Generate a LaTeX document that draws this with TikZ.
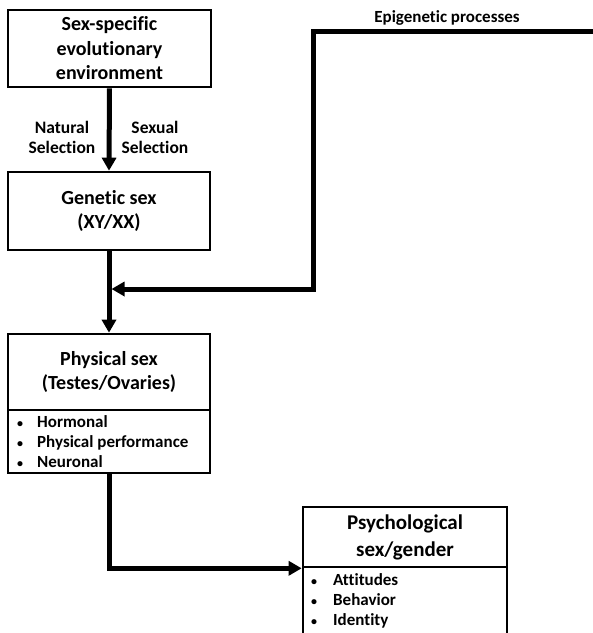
\documentclass[tikz,border=0pt]{standalone}
\usepackage{fontspec}
\setmainfont{Carlito}[Ligatures=CommonOff]
\usetikzlibrary{arrows.meta}
\newcommand{\smallbullet}{{\fontsize{12}{12}\selectfont\textbullet}}
\begin{document}
\begin{tikzpicture}[x=1pt,y=-1pt,
  font=\bfseries,
  boxpart/.style={draw, line width=2.6pt, rectangle, inner sep=0pt, align=center},
  titletext/.style={font=\fontsize{20}{24.5}\selectfont\bfseries},
  listtext/.style={font=\fontsize{17}{20}\selectfont\bfseries, align=left, anchor=west, inner sep=0pt},
  flow/.style={line width=5pt, -{Triangle[length=13pt,width=14pt]}},
  lbl/.style={font=\fontsize{17.5}{20}\selectfont\bfseries, align=center, inner sep=0pt}
]
\clip (0,0) rectangle (593,633);
\fill[white] (0,0) rectangle (593,633);

% boxes
\node[boxpart, titletext, minimum width=203pt, minimum height=77pt] (env) at (109.5,48.5)
  {Sex-specific\\evolutionary\\environment};
\node[boxpart, titletext, minimum width=202pt, minimum height=78pt] (gen) at (109,211)
  {Genetic sex\\(XY/XX)};
\node[boxpart, titletext, minimum width=202pt, minimum height=76pt] (physT) at (109,372)
  {Physical sex\\(Testes/Ovaries)};
\node[boxpart, minimum width=202pt, minimum height=63pt] (physL) at (109,441.5) {};
\node[boxpart, font=\fontsize{21}{27}\selectfont\bfseries, minimum width=204pt, minimum height=60pt] (psyT) at (405,537)
  {Psychological\\sex/gender};
\node[boxpart, minimum width=204pt, minimum height=80pt] (psyL) at (405,607) {};

% bullet lists
\node[listtext] (physItems) at (17,441.5)
  {\makebox[20pt][l]{\smallbullet}Hormonal\\
   \makebox[20pt][l]{\smallbullet}Physical performance\\
   \makebox[20pt][l]{\smallbullet}Neuronal};
\node[listtext, anchor=north west] (psyItems) at (311,573)
  {\makebox[22pt][l]{\smallbullet}Attitudes\\
   \makebox[22pt][l]{\smallbullet}Behavior\\
   \makebox[22pt][l]{\smallbullet}Identity};

% selection labels
\node[lbl] (natural) at (62,137) {Natural\\Selection};
\node[lbl] (sexual) at (155,137) {Sexual\\Selection};
\node[lbl, font=\fontsize{17}{20}\selectfont\bfseries] (epi) at (447,18) {Epigenetic processes};

% connectors
\coordinate (epiStart) at (593,31);
\coordinate (epiCorner) at (313,31);
\coordinate (join) at (109,289);

\draw[flow] (env.south) -- (gen.north);
\draw[flow] (gen.south) -- (physT.north);
\draw[flow, line join=miter, shorten >=2.5pt] (epiStart) -- (epiCorner) |- (join);
\draw[flow, line join=miter] (physL.south) |- (psyT.south west);
\end{tikzpicture}
\end{document}
